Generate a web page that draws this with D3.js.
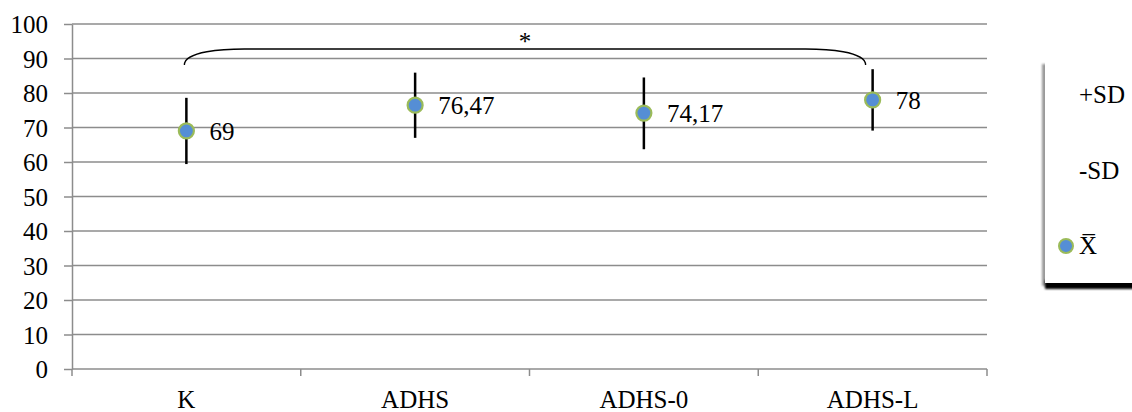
<!DOCTYPE html>
<html lang="en">
<head>
<meta charset="UTF-8">
<title>Mean and SD by group</title>
<script src="https://d3js.org/d3.v7.min.js"></script>
<style>
    body { margin: 0; background: #fff; }
    text { font-family: "Liberation Serif", "Times New Roman", serif; fill: #000; }
    .grid line { stroke: #8c8c8c; stroke-width: 1.5; }
    .axis path, .axis line { stroke: #8c8c8c; stroke-width: 1.5; }
</style>
</head>
<body>
<script>
    // data
    var groups = ["K", "ADHS", "ADHS-0", "ADHS-L"];
    var means = [69, 76.47, 74.17, 78];
    var labels = ["69", "76,47", "74,17", "78"];
    var sdUpper = [78.6, 85.9, 84.5, 86.9];
    var sdLower = [59.4, 67.0, 63.7, 69.1];
    var yTicks = [0, 10, 20, 30, 40, 50, 60, 70, 80, 90, 100];
    var legendItems = ["+SD", "-SD", "X\u0305"];

    var width = 1132, height = 412;
    var plotLeft = 72, plotRight = 987, plotTop = 24, plotBottom = 369;

    var svg = d3.select("body").append("svg")
        .attr("width", width)
        .attr("height", height);

    var x = d3.scaleBand().domain(groups).range([plotLeft, plotRight]);
    var y = d3.scaleLinear().domain([0, 100]).range([plotBottom, plotTop]);

    // horizontal grid
    svg.append("g").attr("class", "grid")
        .selectAll("line")
        .data(yTicks.filter(function(d) { return d > 0; }))
        .enter().append("line")
        .attr("x1", plotLeft).attr("x2", plotRight)
        .attr("y1", function(d) { return y(d); })
        .attr("y2", function(d) { return y(d); });

    // y axis
    var yAxis = svg.append("g").attr("class", "axis")
        .attr("transform", "translate(" + plotLeft + ",0)")
        .call(d3.axisLeft(y).tickValues(yTicks).tickSize(8).tickPadding(16).tickSizeOuter(0));
    yAxis.selectAll("text")
        .style("font-size", "25px")
        .style("font-family", "Liberation Serif")
        .attr("dy", "0.34em");

    // x axis with ticks on category boundaries
    var xg = svg.append("g").attr("class", "axis")
        .attr("transform", "translate(0," + plotBottom + ")");
    xg.append("line").attr("x1", plotLeft).attr("x2", plotRight).attr("y1", 0).attr("y2", 0);
    xg.selectAll(".bt")
        .data(groups.concat(["end"]))
        .enter().append("line")
        .attr("x1", function(d, i) { return i < groups.length ? x(d) : plotRight; })
        .attr("x2", function(d, i) { return i < groups.length ? x(d) : plotRight; })
        .attr("y1", 0).attr("y2", 7);
    xg.selectAll(".cat")
        .data(groups)
        .enter().append("text")
        .attr("x", function(d) { return x(d) + x.bandwidth() / 2; })
        .attr("y", 39)
        .attr("text-anchor", "middle")
        .style("font-size", "25px")
        .text(function(d) { return d; });

    // error bars
    svg.selectAll(".err")
        .data(groups)
        .enter().append("line")
        .attr("x1", function(d) { return x(d) + x.bandwidth() / 2; })
        .attr("x2", function(d) { return x(d) + x.bandwidth() / 2; })
        .attr("y1", function(d, i) { return y(sdUpper[i]); })
        .attr("y2", function(d, i) { return y(sdLower[i]); })
        .attr("stroke", "#000")
        .attr("stroke-width", 2.5);

    // mean points
    svg.selectAll(".pt")
        .data(groups)
        .enter().append("circle")
        .attr("cx", function(d) { return x(d) + x.bandwidth() / 2; })
        .attr("cy", function(d, i) { return y(means[i]); })
        .attr("r", 7.5)
        .attr("fill", "#558ed5")
        .attr("stroke", "#9bbb59")
        .attr("stroke-width", 2.2);

    svg.selectAll(".lbl")
        .data(groups)
        .enter().append("text")
        .attr("x", function(d) { return x(d) + x.bandwidth() / 2 + 23; })
        .attr("y", function(d, i) { return y(means[i]) + 9; })
        .style("font-size", "25px")
        .text(function(d, i) { return labels[i]; });

    // significance bracket between K and ADHS-L
    var bx1 = x(groups[0]) + x.bandwidth() / 2 - 2;
    var bx2 = x(groups[3]) + x.bandwidth() / 2 - 7;
    var by = 49, bEnd = 65;
    var bracket = d3.path();
    bracket.moveTo(bx1, bEnd);
    bracket.bezierCurveTo(bx1, by + 2, bx1 + 40, by, bx1 + 60, by);
    bracket.lineTo(bx2 - 60, by);
    bracket.bezierCurveTo(bx2 - 40, by, bx2, by + 2, bx2, bEnd);
    svg.append("path")
        .attr("d", bracket.toString())
        .attr("fill", "none")
        .attr("stroke", "#000")
        .attr("stroke-width", 1.3);
    svg.append("text")
        .attr("x", (bx1 + bx2) / 2)
        .attr("y", 50)
        .attr("text-anchor", "middle")
        .style("font-size", "25px")
        .text("*");

    // legend: gray shadow on the left, heavy black one underneath
    var defs = svg.append("defs");
    var f = defs.append("filter").attr("id", "blur").attr("x", "-20%").attr("y", "-20%")
        .attr("width", "140%").attr("height", "140%");
    f.append("feGaussianBlur").attr("stdDeviation", 1.2);
    var lg = svg.append("g");
    lg.append("rect")
        .attr("x", 1042).attr("y", 64).attr("width", 8).attr("height", 222)
        .attr("fill", "#999").attr("filter", "url(#blur)");
    lg.append("rect")
        .attr("x", 1045).attr("y", 280).attr("width", 100).attr("height", 9)
        .attr("fill", "#000").attr("filter", "url(#blur)");
    lg.append("rect")
        .attr("x", 1045).attr("y", 62).attr("width", 100).attr("height", 221)
        .attr("fill", "#fff");
    var ly = d3.scalePoint().domain(legendItems).range([95, 246]);
    lg.selectAll(".lt")
        .data(legendItems)
        .enter().append("text")
        .attr("x", 1079)
        .attr("y", function(d) { return ly(d) + 8; })
        .style("font-size", "25px")
        .text(function(d) { return d; });
    lg.append("circle")
        .attr("cx", 1066).attr("cy", ly(legendItems[2]))
        .attr("r", 7)
        .attr("fill", "#558ed5")
        .attr("stroke", "#9bbb59")
        .attr("stroke-width", 2);
</script>
</body>
</html>
